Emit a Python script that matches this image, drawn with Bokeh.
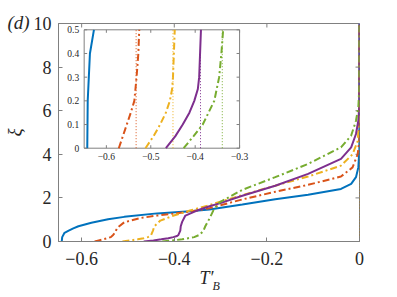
import math
from bokeh.plotting import figure
from bokeh.models import FixedTicker, Range1d, Title
from bokeh.embed import file_html
from bokeh.resources import INLINE

# ---------------- data ----------------
blue_T = [-0.643, -0.642, -0.637, -0.628, -0.618, -0.607, -0.579, -0.543, -0.508, -0.437,
          -0.366, -0.324, -0.253, -0.182, -0.111, -0.040, -0.018, -0.0076, -0.0025, -0.0003, 0.0]
blue_xi = [0.0, 0.2, 0.4, 0.5, 0.6, 0.7, 0.86, 1.02, 1.13, 1.29,
           1.39, 1.47, 1.70, 1.94, 2.14, 2.41, 2.64, 2.95, 3.4, 4.2, 10.0]

orange_T = [-0.572, -0.563, -0.554, -0.545, -0.537, -0.532, -0.528, -0.526, -0.522, -0.508, -0.472,
            -0.437, -0.366, -0.324, -0.253, -0.182, -0.111, -0.040, -0.015, -0.004, -0.0005, 0.0]
orange_xi = [0.0, 0.05, 0.1, 0.15, 0.2, 0.3, 0.4, 0.5, 0.65, 0.88, 1.08,
             1.19, 1.37, 1.53, 1.93, 2.28, 2.6, 2.98, 3.4, 4.0, 4.6, 10.0]

yellow_T = [-0.512, -0.494, -0.479, -0.466, -0.457, -0.452, -0.450, -0.446, -0.443, -0.430, -0.401,
            -0.366, -0.324, -0.253, -0.182, -0.111, -0.040, -0.015, -0.004, -0.001, 0.0]
yellow_xi = [0.0, 0.05, 0.1, 0.15, 0.2, 0.25, 0.3, 0.5, 0.7, 0.96, 1.19,
             1.42, 1.67, 2.13, 2.56, 2.98, 3.48, 4.0, 4.6, 5.5, 10.0]

purple_T = [-0.466, -0.445, -0.428, -0.413, -0.402, -0.394, -0.391, -0.387, -0.386, -0.383, -0.376,
            -0.351, -0.324, -0.302, -0.253, -0.182, -0.111, -0.040, -0.018, -0.0076, -0.0025, -0.0005, 0.0]
purple_xi = [0.0, 0.05, 0.1, 0.15, 0.2, 0.25, 0.3, 0.5, 0.7, 0.9, 1.19,
             1.42, 1.62, 1.75, 2.1, 2.56, 3.1, 3.79, 4.32, 4.93, 5.54, 6.2, 10.0]

green_T = [-0.426, -0.404, -0.383, -0.370, -0.357, -0.346, -0.341, -0.337, -0.333, -0.324, -0.315,
           -0.302, -0.253, -0.182, -0.111, -0.040, -0.018, -0.0076, -0.0025, -0.0005, 0.0]
green_xi = [0.0, 0.05, 0.1, 0.15, 0.2, 0.3, 0.4, 0.5, 0.7, 1.05, 1.45,
            1.8, 2.37, 2.95, 3.56, 4.32, 4.86, 5.54, 6.15, 7.0, 10.0]

series_colors = ["#0072BD", "#D95319", "#EDB120", "#7E2F8E", "#77AC30"]
series_T = [blue_T, orange_T, yellow_T, purple_T, green_T]
series_xi = [blue_xi, orange_xi, yellow_xi, purple_xi, green_xi]
series_dash = ["solid", "7 3 2 3", "7 3 2 3", "solid", "7 3 2 3"]

# vertical dotted asymptotes
main_asymptote = 0.0
inset_asym = [-0.533, -0.450, -0.388, -0.339]
inset_asym_colors = ["#D95319", "#EDB120", "#7E2F8E", "#77AC30"]

MINUS = "\u2212"
main_xticks = [-0.6, -0.4, -0.2, 0.0]
main_xlabels = [MINUS + "0.6", MINUS + "0.4", MINUS + "0.2", "0"]
main_yticks = [0, 2, 4, 6, 8, 10]
main_ylabels = ["0", "2", "4", "6", "8", "10"]
inset_xticks = [-0.6, -0.5, -0.4, -0.3]
inset_xlabels = [MINUS + "0.6", MINUS + "0.5", MINUS + "0.4", MINUS + "0.3"]
inset_yticks = [0.0, 0.1, 0.2, 0.3, 0.4, 0.5]
inset_ylabels = ["0", "0.1", "0.2", "0.3", "0.4", "0.5"]

main_xr = (-0.65, 0.0)
main_yr = (0.0, 10.0)
inset_xr = (-0.65, -0.3)
inset_yr = (0.0, 0.5)

# ---------------- layout geometry (pixels) ----------------
W, H = 397, 297
B_LEFT, B_RIGHT, B_TOP, B_BOTTOM = 54, 38, 23, 56
FW = W - B_LEFT - B_RIGHT
FH = H - B_TOP - B_BOTTOM
# inset frame, in pixels from the main frame's top-left corner
IN_L, IN_R, IN_T, IN_B = 26.0, 183.5, 6.3, 124.7

FONT = "Liberation Serif"
AXC = "#808080"
TXC = "#262626"

p = figure(width=W, height=H, x_range=main_xr, y_range=main_yr,
           output_backend="svg", toolbar_location=None,
           min_border_left=B_LEFT, min_border_right=B_RIGHT,
           min_border_top=B_TOP, min_border_bottom=B_BOTTOM)
p.outline_line_color = AXC
p.outline_line_width = 1
p.grid.visible = False
p.background_fill_color = "white"

for ax, ticks, labels, standoff in ((p.xaxis[0], main_xticks, main_xlabels, 10),
                                    (p.yaxis[0], main_yticks, main_ylabels, 7)):
    ax.ticker = FixedTicker(ticks=ticks)
    ax.major_label_overrides = {t: l for t, l in zip(ticks, labels)}
    ax.axis_line_color = AXC
    ax.major_tick_line_color = AXC
    ax.minor_tick_line_color = None
    ax.major_tick_in = 4
    ax.major_tick_out = 0
    ax.major_label_text_font = FONT
    ax.major_label_text_color = TXC
    ax.major_label_text_font_size = "18px"
    ax.major_label_standoff = standoff

p.yaxis[0].axis_label = "ξ"
p.yaxis[0].axis_label_text_font = FONT
p.yaxis[0].axis_label_text_font_style = "italic"
p.yaxis[0].axis_label_text_font_size = "19px"
p.yaxis[0].axis_label_text_color = TXC
p.yaxis[0].axis_label_standoff = 6

# mirrored ticks on top and right edges
p.ray(x=main_xticks, y=[main_yr[1]] * len(main_xticks), length=4, length_units="screen",
      angle=-math.pi / 2, line_color=AXC, line_width=1)
p.ray(x=[main_xr[1]] * len(main_yticks), y=main_yticks, length=4, length_units="screen",
      angle=math.pi, line_color=AXC, line_width=1)

# asymptotes at T'_B = 0 and the curves
for c in series_colors:
    p.line([main_asymptote, main_asymptote], list(main_yr), line_color=c,
           line_width=1, line_dash="1 2")
for T, xi, c, d in zip(series_T, series_xi, series_colors, series_dash):
    p.line(T, xi, line_color=c, line_width=2, line_dash=d)

# ---------------- inset, drawn on extra ranges mapped onto its box ----------------
ux = (inset_xr[1] - inset_xr[0]) / (IN_R - IN_L)
uy = (inset_yr[1] - inset_yr[0]) / (IN_B - IN_T)
p.extra_x_ranges = {"ix": Range1d(inset_xr[0] - IN_L * ux, inset_xr[0] + (FW - IN_L) * ux)}
p.extra_y_ranges = {"iy": Range1d(inset_yr[0] - (FH - IN_B) * uy, inset_yr[1] + IN_T * uy)}
kw = dict(x_range_name="ix", y_range_name="iy")

p.quad(left=[inset_xr[0]], right=[inset_xr[1]], bottom=[inset_yr[0]], top=[inset_yr[1]],
       fill_color="white", line_color=AXC, line_width=1, **kw)
p.segment(x0=inset_asym, y0=[inset_yr[0]] * len(inset_asym), x1=inset_asym,
          y1=[inset_yr[1]] * len(inset_asym), line_color=inset_asym_colors,
          line_width=1, line_dash="1 2", **kw)
for T, xi, c, d in zip(series_T, series_xi, series_colors, series_dash):
    keep = [(t, v) for t, v in zip(T, xi) if v <= inset_yr[1] and t >= inset_xr[0]]
    p.line([k[0] for k in keep], [k[1] for k in keep], line_color=c, line_width=2,
           line_dash=d, **kw)

nx, ny = len(inset_xticks), len(inset_yticks)
p.ray(x=inset_xticks, y=[inset_yr[0]] * nx, length=3, length_units="screen",
      angle=math.pi / 2, line_color=AXC, **kw)
p.ray(x=inset_xticks, y=[inset_yr[1]] * nx, length=3, length_units="screen",
      angle=-math.pi / 2, line_color=AXC, **kw)
p.ray(x=[inset_xr[0]] * ny, y=inset_yticks, length=3, length_units="screen",
      angle=0, line_color=AXC, **kw)
p.ray(x=[inset_xr[1]] * ny, y=inset_yticks, length=3, length_units="screen",
      angle=math.pi, line_color=AXC, **kw)
p.text(x=inset_xticks, y=[inset_yr[0]] * nx, text=inset_xlabels, y_offset=5,
       text_align="center", text_baseline="top", text_font_size="9.5px",
       text_font={"value": FONT}, text_color=TXC, **kw)
p.text(x=[inset_xr[0]] * ny, y=inset_yticks, text=inset_ylabels, x_offset=-5,
       text_align="right", text_baseline="middle", text_font_size="9.5px",
       text_font={"value": FONT}, text_color=TXC, **kw)

# ---------------- texts outside the frame ----------------
p.add_layout(Title(text="(d)", align="left", offset=-51, standoff=-18, vertical_align="bottom",
                   text_font=FONT, text_font_style="italic", text_font_size="19px",
                   text_color=TXC), "above")
p.add_layout(Title(text="T′", align="left", offset=141, standoff=0, vertical_align="top",
                   text_font=FONT, text_font_style="italic", text_font_size="18px",
                   text_color=TXC), "below")
p.add_layout(Title(text="B", align="left", offset=154, standoff=-21, vertical_align="top",
                   text_font=FONT, text_font_style="italic", text_font_size="12px",
                   text_color=TXC), "below")

open("out.html", "w").write(file_html(p, INLINE))
